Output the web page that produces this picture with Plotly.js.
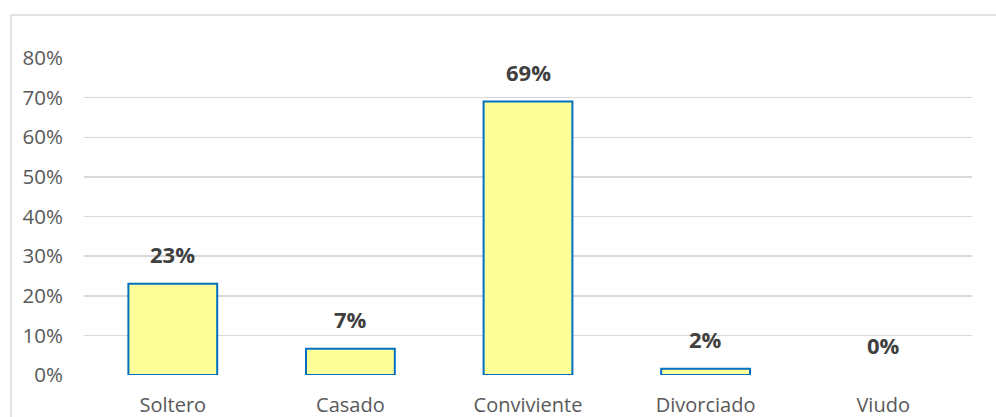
<!DOCTYPE html>
<html>
<head>
<meta charset="utf-8">
<script src="https://cdn.plot.ly/plotly-3.0.1.min.js"></script>
<style>html,body{margin:0;padding:0;background:#fff;}#chart{width:996px;height:417px;}</style>
</head>
<body>
<div id="chart"></div>
<script>
const categories = ["Soltero", "Casado", "Conviviente", "Divorciado", "Viudo"];
const values = [0.23, 0.066, 0.69, 0.016, 0.0];
const valueLabels = ["23%", "7%", "69%", "2%", "0%"];
const yTickValues = [0, 0.1, 0.2, 0.3, 0.4, 0.5, 0.6, 0.7, 0.8];
const yTickLabels = ["0%", "10%", "20%", "30%", "40%", "50%", "60%", "70%", "80%"];

const trace = {
  type: "bar",
  x: categories,
  y: values,
  marker: { color: "#FFFF99", line: { color: "#0070C0", width: values.map(v => v > 0 ? 2 : 0) } },
  hoverinfo: "none"
};

const annotations = categories.map((c, i) => ({
  x: c, y: values[i], xref: "x", yref: "y",
  text: valueLabels[i], showarrow: false,
  yanchor: "bottom", yshift: 13,
  font: { family: "Open Sans", size: 22, color: "#404040", weight: "bold" }
}));

const layout = {
  width: 996, height: 417,
  margin: { l: 84, r: 24, t: 58, b: 42 },
  paper_bgcolor: "#ffffff", plot_bgcolor: "#ffffff",
  showlegend: false,
  bargap: 0.5,
  font: { family: "Open Sans", color: "#595959", size: 20 },
  xaxis: {
    type: "category", showgrid: false, zeroline: false, showline: false,
    ticks: "", ticklabelstandoff: 16,
    tickfont: { family: "Open Sans", size: 20, color: "#595959" }
  },
  yaxis: {
    range: [0, 0.8], tickvals: yTickValues, ticktext: yTickLabels,
    showgrid: true, gridcolor: "#D9D9D9", gridwidth: 1.5,
    zeroline: false, showline: false, ticks: "", ticklabelstandoff: 20,
    tickfont: { family: "Open Sans", size: 20.5, color: "#595959" }
  },
  annotations: annotations,
  shapes: [{
    type: "rect", xref: "paper", yref: "paper",
    x0: (11 - 84) / 888, x1: (1010 - 84) / 888,
    y0: (375 - 430) / 317, y1: (375 - 15) / 317,
    line: { color: "#D9D9D9", width: 1.5 }, fillcolor: "rgba(0,0,0,0)", layer: "below"
  }]
};

Plotly.newPlot("chart", [trace], layout, { displayModeBar: false, staticPlot: true });
</script>
</body>
</html>
